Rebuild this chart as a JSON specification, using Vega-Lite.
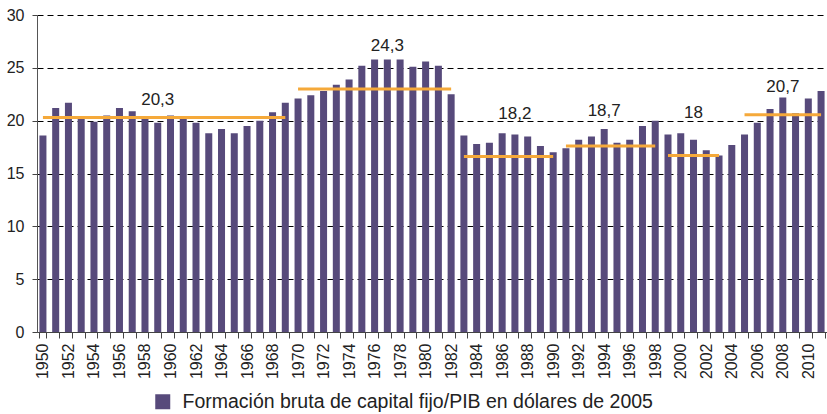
{
  "$schema": "https://vega.github.io/schema/vega-lite/v6.json",
  "width": 790,
  "height": 317,
  "autosize": {"type": "none"},
  "padding": {"left": 37, "top": 15, "right": 0, "bottom": 82},
  "background": "white",
  "config": {
    "view": {"stroke": null},
    "font": "Liberation Sans"
  },
  "datasets": {
    "fbcf": [
      {"anio": 1950, "valor": 18.6}, {"anio": 1951, "valor": 21.2}, {"anio": 1952, "valor": 21.7},
      {"anio": 1953, "valor": 20.2}, {"anio": 1954, "valor": 19.9}, {"anio": 1955, "valor": 20.5},
      {"anio": 1956, "valor": 21.2}, {"anio": 1957, "valor": 20.9}, {"anio": 1958, "valor": 20.2},
      {"anio": 1959, "valor": 19.8}, {"anio": 1960, "valor": 20.5}, {"anio": 1961, "valor": 20.2},
      {"anio": 1962, "valor": 19.8}, {"anio": 1963, "valor": 18.8}, {"anio": 1964, "valor": 19.2},
      {"anio": 1965, "valor": 18.8}, {"anio": 1966, "valor": 19.5}, {"anio": 1967, "valor": 20.0},
      {"anio": 1968, "valor": 20.8}, {"anio": 1969, "valor": 21.7}, {"anio": 1970, "valor": 22.1},
      {"anio": 1971, "valor": 22.4}, {"anio": 1972, "valor": 22.8}, {"anio": 1973, "valor": 23.4},
      {"anio": 1974, "valor": 23.9}, {"anio": 1975, "valor": 25.2}, {"anio": 1976, "valor": 25.8},
      {"anio": 1977, "valor": 25.8}, {"anio": 1978, "valor": 25.8}, {"anio": 1979, "valor": 25.1},
      {"anio": 1980, "valor": 25.6}, {"anio": 1981, "valor": 25.2}, {"anio": 1982, "valor": 22.5},
      {"anio": 1983, "valor": 18.6}, {"anio": 1984, "valor": 17.8}, {"anio": 1985, "valor": 17.9},
      {"anio": 1986, "valor": 18.8}, {"anio": 1987, "valor": 18.7}, {"anio": 1988, "valor": 18.5},
      {"anio": 1989, "valor": 17.6}, {"anio": 1990, "valor": 17.0}, {"anio": 1991, "valor": 17.4},
      {"anio": 1992, "valor": 18.2}, {"anio": 1993, "valor": 18.5}, {"anio": 1994, "valor": 19.2},
      {"anio": 1995, "valor": 17.9}, {"anio": 1996, "valor": 18.2}, {"anio": 1997, "valor": 19.5},
      {"anio": 1998, "valor": 20.0}, {"anio": 1999, "valor": 18.7}, {"anio": 2000, "valor": 18.8},
      {"anio": 2001, "valor": 18.2}, {"anio": 2002, "valor": 17.2}, {"anio": 2003, "valor": 16.7},
      {"anio": 2004, "valor": 17.7}, {"anio": 2005, "valor": 18.7}, {"anio": 2006, "valor": 19.8},
      {"anio": 2007, "valor": 21.1}, {"anio": 2008, "valor": 22.2}, {"anio": 2009, "valor": 20.7},
      {"anio": 2010, "valor": 22.1}, {"anio": 2011, "valor": 22.8}
    ],
    "promedios": [
      {"desde": 1950, "hasta": 1969, "nivel": 20.3, "etiqueta": "20,3", "anio_etiqueta": 1959, "y_etiqueta": 22.0},
      {"desde": 1970, "hasta": 1982, "nivel": 23.0, "etiqueta": "24,3", "anio_etiqueta": 1977, "y_etiqueta": 27.1},
      {"desde": 1983, "hasta": 1990, "nivel": 16.6, "etiqueta": "18,2", "anio_etiqueta": 1987, "y_etiqueta": 20.6},
      {"desde": 1991, "hasta": 1998, "nivel": 17.6, "etiqueta": "18,7", "anio_etiqueta": 1994, "y_etiqueta": 20.9},
      {"desde": 1999, "hasta": 2003, "nivel": 16.7, "etiqueta": "18", "anio_etiqueta": 2001, "y_etiqueta": 20.7},
      {"desde": 2005, "hasta": 2011, "nivel": 20.55, "etiqueta": "20,7", "anio_etiqueta": 2008, "y_etiqueta": 23.2}
    ]
  },
  "layer": [
    {
      "data": {"name": "fbcf"},
      "mark": {"type": "bar"},
      "encoding": {
        "x": {
          "field": "anio",
          "type": "ordinal",
          "scale": {"paddingInner": 0.45, "paddingOuter": 0.19},
          "axis": {
            "title": null,
            "labelAngle": 270,
            "labelExpr": "datum.value % 2 == 0 ? datum.label : ''",
            "labelFontSize": 16,
            "labelColor": "#222",
            "labelPadding": 5,
            "tickBand": "extent",
            "tickSize": 6,
            "tickColor": "#444",
            "domainColor": "#444",
            "grid": false
          }
        },
        "y": {
          "field": "valor",
          "type": "quantitative",
          "scale": {"domain": [0, 30], "nice": false},
          "axis": {
            "title": null,
            "values": [0, 5, 10, 15, 20, 25, 30],
            "labelFontSize": 16,
            "labelColor": "#222",
            "labelPadding": 8,
            "tickSize": 5,
            "tickColor": "#444",
            "domainColor": "#555",
            "grid": true,
            "gridColor": "#000",
            "gridOpacity": 1,
            "gridWidth": 1,
            "gridDash": [6, 4]
          }
        },
        "color": {
          "datum": "Formación bruta de capital fijo/PIB en dólares de 2005",
          "type": "nominal",
          "scale": {"range": ["#574a7b"]},
          "legend": {
            "title": null,
            "orient": "none",
            "legendX": 116,
            "legendY": 377,
            "symbolType": "square",
            "symbolSize": 225,
            "symbolStrokeWidth": 0,
            "labelFontSize": 19.5,
            "labelColor": "#222",
            "labelOffset": 10,
            "labelLimit": 700
          }
        }
      }
    },
    {
      "data": {"name": "promedios"},
      "mark": {"type": "rule", "color": "#f5a93a", "strokeWidth": 3},
      "encoding": {
        "x": {"field": "desde", "type": "ordinal"},
        "x2": {"field": "hasta"},
        "y": {"field": "nivel", "type": "quantitative"}
      }
    },
    {
      "data": {"name": "promedios"},
      "mark": {"type": "text", "fontSize": 17, "color": "#222", "baseline": "middle", "align": "center"},
      "encoding": {
        "x": {"field": "anio_etiqueta", "type": "ordinal"},
        "y": {"field": "y_etiqueta", "type": "quantitative"},
        "text": {"field": "etiqueta"}
      }
    }
  ]
}
